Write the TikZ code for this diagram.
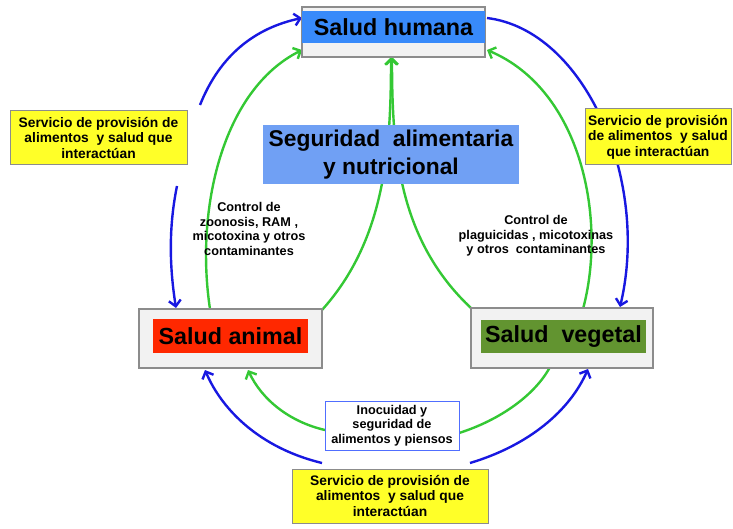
\documentclass[tikz,border=0pt]{standalone}
\usepackage{fontspec}
\setmainfont{Liberation Sans}
\usetikzlibrary{arrows.meta}
\definecolor{humblue}{RGB}{56,138,250}
\definecolor{segblue}{RGB}{112,160,244}
\definecolor{anired}{RGB}{255,40,0}
\definecolor{veggreen}{RGB}{98,148,48}
\definecolor{yel}{RGB}{255,255,40}
\definecolor{arrblue}{RGB}{24,24,225}
\definecolor{arrgreen}{RGB}{52,200,52}
\definecolor{inoblue}{RGB}{80,110,255}
\definecolor{boxgray}{RGB}{242,242,242}
\definecolor{edgegray}{RGB}{140,140,140}
\tikzset{
  outerbox/.style={draw=edgegray, line width=1.2pt, fill=boxgray, inner sep=0pt},
  bandbox/.style={inner sep=0pt, font=\fontsize{23.3}{27}\selectfont\bfseries},
  yelbox/.style={draw=edgegray, line width=1pt, fill=yel, inner sep=0pt, align=center,
                 font=\fontsize{13.8}{15.5}\selectfont\bfseries},
  smalltext/.style={inner sep=0pt, align=center, font=\fontsize{12.7}{14.5}\selectfont\bfseries},
  bluearr/.style={draw=arrblue, line width=2.4pt, -{Straight Barb[length=6pt,width=12pt]}},
  greenarr/.style={draw=arrgreen, line width=2.4pt, -{Straight Barb[length=6pt,width=12pt]}},
  greenline/.style={draw=arrgreen, line width=2.4pt},
}
\begin{document}
\begin{tikzpicture}[x=1pt,y=-1pt]
\useasboundingbox (0,0) rectangle (733,529);
% coordinates for connector ends
\coordinate (b1s) at (200,105);
\coordinate (b1e) at (302,18);
\coordinate (b2s) at (487,18);
\coordinate (b2e) at (620,307);
\coordinate (b3s) at (177,186);
\coordinate (b3e) at (176,308);
\coordinate (b4s) at (322,463);
\coordinate (b4e) at (205,370);
\coordinate (b5s) at (470,463);
\coordinate (b5e) at (588,369);
\coordinate (g1s) at (210,309);
\coordinate (g1e) at (302,50);
\coordinate (g2s) at (583,309);
\coordinate (g2e) at (487,50);
\coordinate (g3s) at (322,310);
\coordinate (g3e) at (391,57);
\coordinate (g4s) at (472,309);
\coordinate (g4e) at (392,57);
\coordinate (g5s) at (325,430);
\coordinate (g5e) at (248,370);
\coordinate (g6s) at (459,433);
\coordinate (g6e) at (550,367);
% connectors
\draw[bluearr] (b1s) .. controls (220,55) and (255,28) .. (b1e);
\draw[bluearr] (b2s) .. controls (585,30) and (650,180) .. (b2e);
\draw[bluearr] (b3s) .. controls (168,230) and (170,270) .. (b3e);
\draw[bluearr] (b4s) .. controls (260,448) and (222,410) .. (b4e);
\draw[bluearr] (b5s) .. controls (530,445) and (570,410) .. (b5e);
\draw[greenarr] (g1s) .. controls (195,210) and (222,90) .. (g1e);
\draw[greenarr] (g2s) .. controls (607,220) and (582,90) .. (g2e);
\draw[greenarr] (g3s) .. controls (385,240) and (391,150) .. (g3e);
\draw[greenarr] (g4s) .. controls (398,240) and (392,150) .. (g4e);
\draw[greenarr] (g5s) .. controls (290,422) and (262,400) .. (g5e);
\draw[greenline] (g6s) .. controls (500,420) and (535,395) .. (g6e);
% nodes
\node[outerbox, minimum width=183pt, minimum height=50pt] (hum) at (393.5,32) {};
\node[bandbox, fill=humblue, minimum width=183pt, minimum height=32pt] (humt) at (393.5,27) {Salud humana};
\node[bandbox, fill=segblue, minimum width=256pt, minimum height=59pt, align=center,
      font=\fontsize{22.8}{28}\selectfont\bfseries] (seg) at (391,154.5) {Seguridad\ \ alimentaria\\y nutricional};
\node[yelbox, minimum width=177pt, minimum height=54pt] (yl) at (98.5,138) {Servicio de provisión de\\alimentos\ \ y salud que\\interactúan};
\node[yelbox, minimum width=146pt, minimum height=56pt] (yr) at (658,137) {Servicio de provisión\\de alimentos\ \ y salud\\que interactúan};
\node[yelbox, minimum width=196pt, minimum height=54pt] (yb) at (390,496) {Servicio de provisión de\\alimentos\ \ y salud que\\interactúan};
\node[outerbox, minimum width=183pt, minimum height=59pt] (ani) at (230.5,338.5) {};
\node[bandbox, fill=anired, minimum width=155pt, minimum height=34pt] (anit) at (230.5,336) {Salud animal};
\node[outerbox, minimum width=182pt, minimum height=60pt] (veg) at (562,338) {};
\node[bandbox, fill=veggreen, minimum width=165pt, minimum height=33pt] (vegt) at (563.5,336.5) {Salud\ \ vegetal};
\node[smalltext, draw=inoblue, line width=1pt, fill=white, minimum width=134pt, minimum height=49pt] (ino) at (392,425.5) {Inocuidad y\\seguridad de\\alimentos y piensos};
\node[smalltext] (cl) at (249,229) {Control de\\zoonosis, RAM\ ,\\micotoxina y otros\\contaminantes};
\node[smalltext] (cr) at (536,236) {Control de\\plaguicidas\ , micotoxinas\\y otros\ \ contaminantes};
\end{tikzpicture}
\end{document}
